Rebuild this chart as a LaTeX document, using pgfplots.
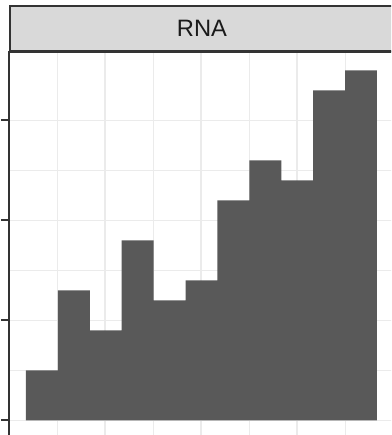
\documentclass[border=0pt]{standalone}
\usepackage{fontspec}
\setmainfont{Liberation Sans}
\usepackage{pgfplots}
\pgfplotsset{compat=1.18}
\definecolor{barfill}{HTML}{595959}
\definecolor{gridc}{HTML}{EBEBEB}
\definecolor{framec}{HTML}{333333}
\definecolor{stripc}{HTML}{D9D9D9}
\definecolor{textc}{HTML}{1A1A1A}
\begin{document}
\begin{tikzpicture}
\useasboundingbox (0,0) rectangle (391pt,435pt);
\clip (0,0) rectangle (391pt,435pt);
\begin{axis}[
  at={(9pt,-10pt)}, anchor=south west,
  scale only axis, width=392pt, height=393pt,
  xmin=0, xmax=4.0833, ymin=-2.45, ymax=36.85,
  xtick={0,1,2,3,4}, ytick={0,10,20,30},
  minor x tick num=1, minor y tick num=1,
  xticklabels={}, yticklabels={},
  grid=both,
  major grid style={color=gridc, line width=1.5pt},
  minor grid style={color=gridc, line width=0.75pt},
  axis line style={color=framec, line width=2pt},
  tick align=outside, ytick pos=left, xtick pos=bottom,
  major tick length=8pt, minor tick length=0pt,
  ytick style={color=framec, line width=2pt},
  xtick style={draw=none},
]
\addplot[ybar interval, fill=barfill, draw=none] coordinates {
  (0.177,5) (0.509,13) (0.842,9) (1.174,18) (1.506,12) (1.839,14)
  (2.171,22) (2.503,26) (2.836,24) (3.168,33) (3.500,35) (3.833,35)
};
\end{axis}
\node[fill=stripc, draw=framec, line width=2pt, minimum width=384pt, minimum height=45pt,
  inner sep=0pt, anchor=south west, text=textc, font=\fontsize{23.7}{28}\selectfont]
  at (9pt,383pt) {RNA};
\end{tikzpicture}
\end{document}
